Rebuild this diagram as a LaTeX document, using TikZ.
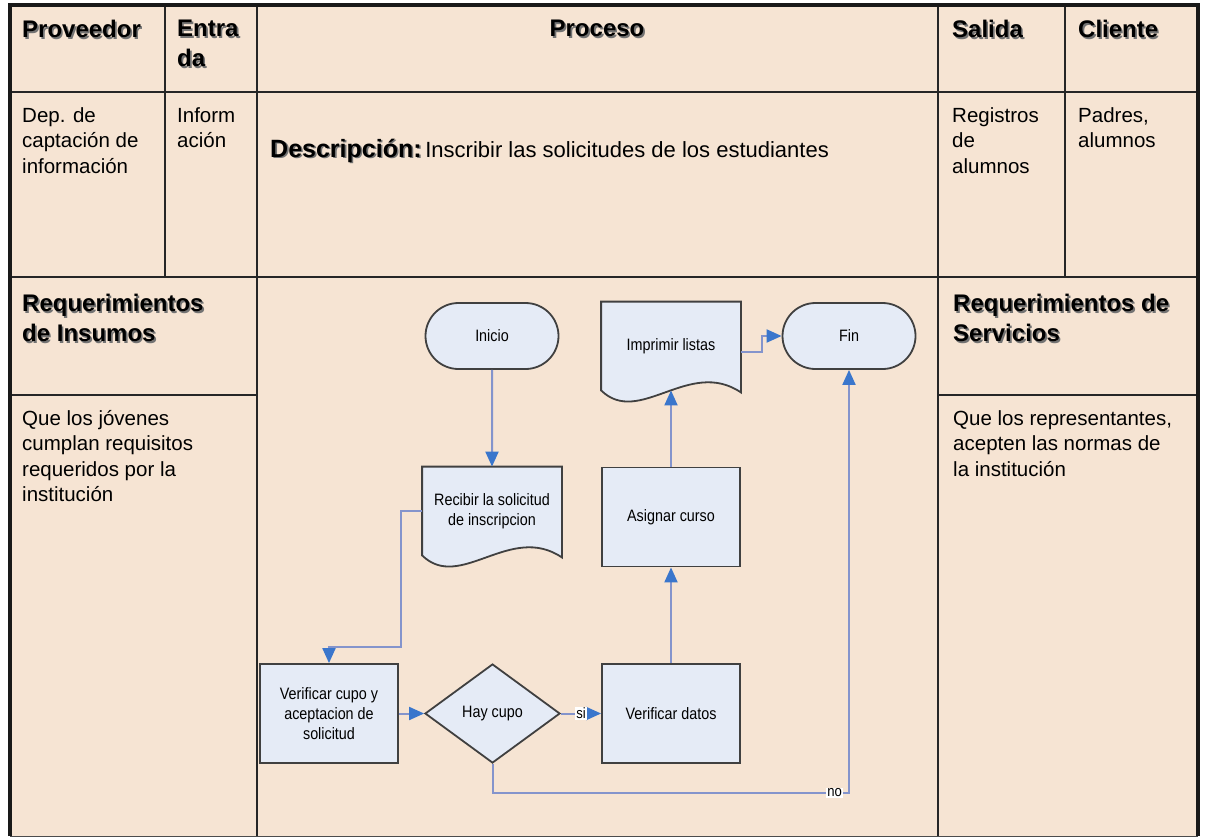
\documentclass[tikz,border=0pt]{standalone}
\usepackage{fontspec}
\setmainfont{Liberation Sans}
\newfontfamily\estrecha[FakeStretch=0.87]{Liberation Sans}
\usetikzlibrary{arrows.meta,shapes.geometric,shapes.misc,calc}

\definecolor{fondo}{RGB}{246,228,211}
\definecolor{nodofondo}{RGB}{229,235,246}
\definecolor{nodoborde}{RGB}{64,64,64}
\definecolor{conector}{RGB}{132,148,204}
\definecolor{punta}{RGB}{58,118,204}

\pgfdeclarelayer{atras}
\pgfsetlayers{atras,main}

% texto con sombra para los titulos
\newcommand\sombra[1]{\leavevmode\rlap{\kern1.6pt\raisebox{-1.6pt}{\color{black!55}#1}}#1}

% contorno de documento (borde inferior ondulado)
\newcommand\documento[1]{%
  \begin{pgfonlayer}{atras}
  \draw[forma] (#1.south west) -- (#1.north west) -- (#1.north east)
    -- ($(#1.south east)+(0,2)$)
    .. controls ($(#1.south west)+(88,-33)$) and ($(#1.south west)+(38,37)$) .. (#1.south west)
    -- cycle;
  \end{pgfonlayer}}

\tikzset{
  linea/.style    = {draw=black!85, line width=2pt},
  borde/.style    = {draw=black!90, line width=3.5pt},
  celda/.style    = {anchor=north west, align=left, inner sep=0pt,
                     font=\fontsize{20.5}{25.5}\selectfont},
  titulo/.style   = {celda, font=\fontsize{24}{30}\selectfont\bfseries},
  forma/.style    = {draw=nodoborde, fill=nodofondo, line width=1.8pt},
  paso/.style     = {forma, rectangle, minimum width=138pt, minimum height=99pt,
                     inner sep=2pt, align=center,
                     font=\estrecha\fontsize{16.5}{20}\selectfont},
  terminal/.style = {paso, rounded rectangle, minimum width=137pt,
                     minimum height=66pt},
  docu/.style     = {paso, draw=none, fill=none, minimum height=87pt},
  decision/.style = {paso, diamond, minimum width=135pt, minimum height=99pt,
                     inner sep=0pt},
  etiq/.style     = {fill=white, inner sep=1pt,
                     font=\estrecha\fontsize{15}{18}\selectfont}
}

\begin{document}
\begin{tikzpicture}
  [
    x = 1pt, y = -1pt,
    flecha/.style = {draw=conector, line width=2pt,
                     -{Triangle[length=15pt,width=13pt,color=punta]}}
  ]
  \useasboundingbox (0,0) rectangle (1206,838);

  % tabla
  \begin{pgfonlayer}{atras}
    \fill[fondo] (10,5) rectangle (1198,836);
  \end{pgfonlayer}
  \draw[linea] (10,92) -- (1198,92);
  \draw[linea] (10,277) -- (1198,277);
  \draw[linea] (10,395) -- (257,395);
  \draw[linea] (938,395) -- (1198,395);
  \draw[linea] (165,5) -- (165,277);
  \draw[linea] (1065,5) -- (1065,277);
  \draw[linea] (257,5) -- (257,836);
  \draw[linea] (938,5) -- (938,836);
  \draw[draw=black!70, line width=1pt] (10,836) -- (1198,836);
  \draw[borde] (10,836) -- (10,5) -- (1198,5) -- (1198,836);

  % encabezados
  \node[titulo] (proveedor) at (22,20) {\sombra{Proveedor}};
  \node[titulo] (entrada) at (177,20) {\sombra{Entra}\\\sombra{da}};
  \node[titulo, anchor=north] (proceso) at (597,20) {\sombra{Proceso}};
  \node[titulo] (salida) at (952,20) {\sombra{Salida}};
  \node[titulo] (cliente) at (1078,20) {\sombra{Cliente}};

  \node[celda] (dep) at (22,107) {Dep. de\\captación de\\información};
  \node[celda] (info) at (177,107) {Inform\\ación};
  \node[anchor=base west, inner sep=0pt] (desc) at (270,157)
    {{\fontsize{25}{30}\selectfont\bfseries\sombra{Descripción:}}
     {\fontsize{22}{26}\selectfont Inscribir las solicitudes de los estudiantes}};
  \node[celda] (registros) at (952,107) {Registros\\de\\alumnos};
  \node[celda] (padres) at (1078,107) {Padres,\\alumnos};

  \node[titulo] (reqins) at (22,294) {\sombra{Requerimientos}\\\sombra{de Insumos}};
  \node[celda] (jovenes) at (22,410)
    {Que los jóvenes\\cumplan requisitos\\requeridos por la\\institución};
  \node[titulo] (reqserv) at (953,294) {\sombra{Requerimientos de}\\\sombra{Servicios}};
  \node[celda] (represent) at (953,410)
    {Que los representantes,\\acepten las normas de\\la institución};

  % diagrama de flujo
  \node[terminal] (inicio) at (492,336) {Inicio};
  \node[docu] (recibir) at (492,511) {Recibir la solicitud\\de inscripcion};
  \documento{recibir}
  \node[paso] (vcupo) at (329,713.5) {Verificar cupo y\\aceptacion de\\solicitud};
  \node[decision] (haycupo) at (492.5,713.5) {Hay cupo};
  \node[paso] (vdatos) at (671,713.5) {Verificar datos};
  \node[paso] (asignar) at (671,517) {Asignar curso};
  \node[docu] (imprimir) at (671,346) {Imprimir listas};
  \documento{imprimir}
  \node[terminal] (fin) at (849,336) {Fin};

  \coordinate (codo) at (401,647);
  \coordinate (codono) at (849,793);

  \draw[flecha] (inicio) -- (recibir.north);
  \draw[flecha] (recibir.west) -| (codo) -| (vcupo.north);
  \draw[flecha] (vcupo) -- (haycupo);
  \draw[flecha] (haycupo) -- node[etiq] {si} (vdatos);
  \draw[flecha] (vdatos) -- (asignar);
  \draw[flecha] (asignar) -- (imprimir.south);
  \draw[flecha] ([yshift=-6pt]imprimir.east) -- ++(21,0) |- (fin.west);
  \draw[flecha] (haycupo.south) |- node[etiq, pos=0.98] {no} (codono) -- (fin.south);
\end{tikzpicture}
\end{document}
